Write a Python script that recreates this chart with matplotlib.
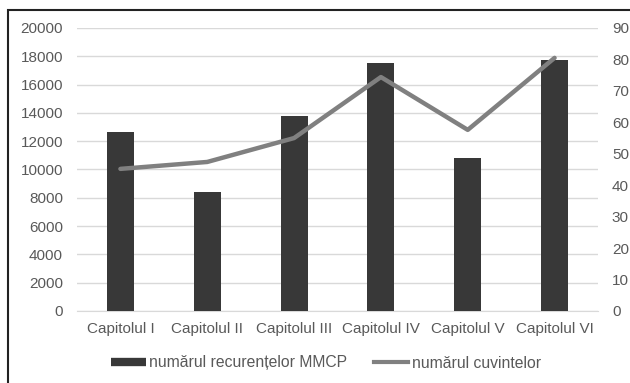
import matplotlib.pyplot as plt
from matplotlib.patches import Rectangle
from matplotlib.lines import Line2D

plt.rcParams['font.family'] = ['Liberation Sans', 'DejaVu Sans']

capitole = ["Capitolul I", "Capitolul II", "Capitolul III",
            "Capitolul IV", "Capitolul V", "Capitolul VI"]
recurente = [12650, 8410, 13780, 17530, 10810, 17740]
cuvinte = [45.2, 47.4, 55.0, 74.4, 57.6, 80.5]

bar_color = "#383838"
line_color = "#808080"
text_color = "#595959"

fig = plt.figure(figsize=(6.3, 3.83), dpi=100)
ax = fig.add_axes([77 / 630, 1 - 311 / 383, 521 / 630, 283 / 383])
ax2 = ax.twinx()

x = range(len(capitole))
ax.bar(x, recurente, width=0.31, color=bar_color, zorder=3)
ax2.plot(x, cuvinte, color=line_color, lw=3.2, solid_capstyle="round", zorder=4)

ax.set_xlim(-0.5, len(capitole) - 0.5)
ax.set_ylim(0, 20000)
ax.set_yticks(range(0, 20001, 2000))
ax2.set_ylim(0, 90)
ax2.set_yticks(range(0, 91, 10))
ax.set_xticks(list(x))
ax.set_xticklabels(capitole)

ax.grid(axis="y", color="#d9d9d9", lw=1, zorder=0)
ax.set_axisbelow(True)
for a in (ax, ax2):
    for s in a.spines.values():
        s.set_visible(False)
    a.tick_params(length=0, labelsize=11, colors=text_color)
ax.spines["bottom"].set_visible(True)
ax.spines["bottom"].set_color("#d9d9d9")
ax.tick_params(axis="y", pad=10)
ax.tick_params(axis="x", pad=8)
ax2.tick_params(axis="y", pad=10)
ax.set_zorder(ax2.get_zorder() - 1)
ax2.patch.set_visible(False)

handles = [Line2D([0], [0], color=bar_color, lw=6, solid_capstyle="butt"),
           Line2D([0], [0], color=line_color, lw=3)]
fig.legend(handles, ["numărul recurențelor MMCP", "numărul cuvintelor"],
           loc="center", bbox_to_anchor=(0.5 + 11 / 630, 1 - 363 / 383), ncol=2,
           frameon=False, fontsize=11.3, labelcolor=text_color,
           handlelength=2.2, handletextpad=0.2, columnspacing=1.7)

# outer frame around the chart
fig.patches.append(Rectangle((8 / 630, -0.05), 1.0, 1 - 10 / 383 + 0.05,
                             transform=fig.transFigure, fill=False,
                             edgecolor="#222222", lw=1.5))

fig.savefig("out.png", dpi=100, facecolor="white")
